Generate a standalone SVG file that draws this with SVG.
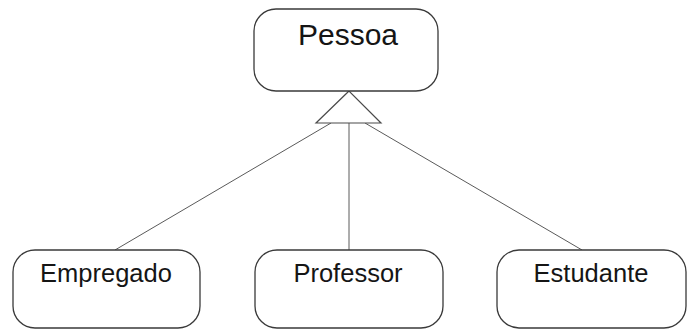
<svg xmlns="http://www.w3.org/2000/svg" width="687" height="330" viewBox="0 0 687 330">
  <style>
    .box { fill: #ffffff; stroke: #3a3a3a; stroke-width: 1.3; }
    .label { font-family: "Liberation Sans", Arial, sans-serif; fill: #151515; text-anchor: middle; }
    .edge { fill: none; stroke: #5a5a5a; stroke-width: 1; }
    .gen { fill: #ffffff; stroke: #4a4a4a; stroke-width: 1.2; }
  </style>
  <rect width="687" height="330" fill="#ffffff"/>

  <!-- inheritance connectors -->
  <g id="connectors">
    <line class="edge" x1="331" y1="123" x2="115" y2="250"/>
    <line class="edge" x1="349" y1="123" x2="349" y2="250"/>
    <line class="edge" x1="365" y1="123" x2="582" y2="250"/>
    <polygon class="gen" points="349,91 316,123 381,123"/>
  </g>

  <g id="pessoa">
    <rect class="box" x="254" y="9" width="184" height="82" rx="22" ry="22"/>
    <text class="label" x="348" y="45" font-size="30">Pessoa</text>
  </g>

  <g id="empregado">
    <rect class="box" x="13" y="250" width="187" height="78" rx="22" ry="22"/>
    <text class="label" x="106" y="282" font-size="25.5">Empregado</text>
  </g>

  <g id="professor">
    <rect class="box" x="255" y="250" width="188" height="78" rx="22" ry="22"/>
    <text class="label" x="348" y="282" font-size="25.5">Professor</text>
  </g>

  <g id="estudante">
    <rect class="box" x="497" y="250" width="189" height="78" rx="22" ry="22"/>
    <text class="label" x="591" y="282" font-size="25.5">Estudante</text>
  </g>
</svg>
